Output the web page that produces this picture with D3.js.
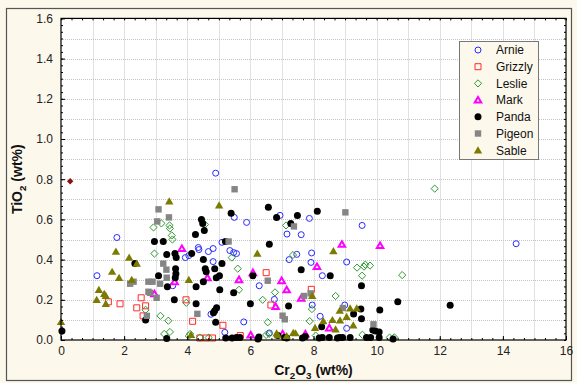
<!DOCTYPE html>
<html>
<head>
<meta charset="utf-8">
<script src="https://cdn.jsdelivr.net/npm/d3@7"></script>
<style>
  body { margin: 0; background: #fdf8ec; }
  svg { display: block; }
</style>
</head>
<body>
<svg id="chart" width="577" height="383"></svg>
<script>
// Cr2O3 (wt%), TiO2 (wt%) pairs for each kimberlite
const arnie = [
  [1.77,0.51],[1.14,0.32],[4.90,0.83],[5.49,0.61],[5.88,0.585],[5.10,0.486],[3.94,0.41],[4.05,0.42],
  [4.35,0.46],[4.37,0.45],[4.67,0.44],[4.82,0.455],[5.35,0.445],[5.47,0.435],[5.56,0.43],[4.82,0.39],
  [3.54,0.27],[6.28,0.27],[4.75,0.128],[5.79,0.09],[5.19,0.038],[6.94,0.62],[7.87,0.605],[7.16,0.527],
  [7.61,0.524],[9.54,0.57],[7.47,0.426],[7.94,0.433],[7.23,0.40],[7.92,0.386],[9.05,0.388],[8.28,0.32],
  [6.76,0.202],[7.96,0.174],[8.99,0.174],[8.21,0.118],[9.05,0.058],[14.42,0.479],[6.6,0.035]
];
const grizzly = [
  [1.5,0.19],[1.87,0.18],[2.54,0.21],[2.4,0.16],[2.68,0.17],[2.6,0.12],[3.96,0.20],[4.17,0.093],
  [5.13,0.073],[4.4,0.01],[4.6,0.01],[4.8,0.01],[5.68,0.022],[6.5,0.335],[7.93,0.252],[6.65,0.174]
];
const leslie = [
  [2.68,0.15],[2.93,0.56],[3.18,0.58],[3.44,0.57],[3.45,0.555],[4.56,0.575],[3.51,0.52],[3.53,0.50],
  [5.41,0.41],[5.6,0.355],[5.64,0.25],[3.97,0.185],[3.15,0.12],[3.4,0.096],[3.45,0.04],[3.27,0.03],
  [4.09,0.03],[4.05,0.02],[4.4,0.012],[4.68,0.012],[7.13,0.57],[7.35,0.423],[9.38,0.36],[9.6,0.365],
  [9.79,0.37],[9.64,0.375],[9.54,0.32],[6.78,0.237],[8.7,0.219],[6.39,0.20],[7.95,0.154],[6.55,0.088],
  [7.88,0.094],[6.5,0.025],[8.07,0.022],[9.55,0.026],[10.56,0.013],[10.41,0.012],[11.84,0.753],
  [10.81,0.323],[6.59,0.03],[2.96,0.43]
];
const mark = [
  [3.83,0.455],[6.08,0.335],[4.64,0.31],[5.64,0.30],[3.6,0.29],[2.96,0.23],[6.01,0.025],[8.9,0.476],
  [10.11,0.47],[8.11,0.365],[6.99,0.295],[7.15,0.25],[7.61,0.207],[6.8,0.166],[8.5,0.06],[7.02,0.03],
  [7.74,0.03]
];
const panda = [
  [0.03,0.045],[2.34,0.38],[2.68,0.10],[5.39,0.63],[4.45,0.60],[4.49,0.58],[4.54,0.545],[4.26,0.525],
  [2.96,0.49],[3.24,0.49],[5.21,0.49],[3.35,0.425],[3.61,0.43],[3.65,0.41],[4.14,0.43],[4.51,0.40],
  [5.10,0.38],[3.63,0.355],[3.64,0.33],[4.57,0.355],[4.6,0.34],[4.87,0.355],[3.09,0.32],[3.62,0.31],
  [4.92,0.31],[5.02,0.32],[6.08,0.32],[3.37,0.265],[4.28,0.265],[4.51,0.29],[5.47,0.235],[5.03,0.25],
  [3.59,0.20],[4.28,0.18],[6.0,0.18],[4.93,0.16],[4.87,0.145],[4.83,0.135],[4.9,0.088],[3.35,0.008],
  [5.56,0.013],[5.42,0.01],[6.57,0.66],[6.83,0.61],[7.49,0.62],[8.12,0.64],[7.28,0.58],[6.6,0.476],
  [7.61,0.35],[8.53,0.32],[9.52,0.27],[7.21,0.169],[9.5,0.154],[10.67,0.19],[9.27,0.129],[9.52,0.106],
  [8.26,0.066],[9.96,0.045],[9.88,0.05],[12.33,0.173],[10.1,0.149],[5.22,0.01],[5.67,0.012],
  [6.27,0.015],[6.87,0.022],[7.08,0.012],[7.15,0.01],[7.74,0.017],[8.28,0.012],[8.5,0.012],
  [8.83,0.012],[9.16,0.012],[9.68,0.012],[9.81,0.012],[10.08,0.04],[10.08,0.012],[10.52,0.005],
  [6.24,0.005],[7.65,0.01],[8.18,0.01],[8.76,0.01],[8.92,0.012]
];
const pigeon = [
  [2.19,0.28],[2.3,0.29],[2.77,0.29],[2.77,0.24],[2.72,0.12],[5.50,0.75],[3.09,0.65],[3.42,0.61],
  [3.05,0.59],[5.31,0.49],[3.24,0.38],[3.34,0.35],[3.35,0.31],[2.90,0.29],[3.14,0.28],[2.82,0.235],
  [3.03,0.21],[4.32,0.13],[9.01,0.635],[7.38,0.565],[6.55,0.295],[7.91,0.232],[7.7,0.219],
  [8.93,0.159],[7.02,0.121],[7.09,0.103],[9.9,0.078]
];
const sable = [
  [0,0.09],[1.74,0.44],[1.62,0.34],[1.84,0.31],[2.16,0.41],[2.4,0.38],[2.24,0.30],[1.2,0.25],
  [1.37,0.23],[1.42,0.22],[1.13,0.20],[1.42,0.18],[3.43,0.69],[5.01,0.67],[6.22,0.43],[4.05,0.30],
  [8.63,0.443],[7.96,0.22],[8.83,0.146],[9.16,0.158],[9.37,0.158],[8.31,0.094],[8.6,0.10],
  [8.84,0.098],[9.05,0.116],[9.26,0.073],[8.05,0.061],[8.7,0.053],[7.36,0.036],[6.83,0.033],
  [4.12,0.026],[7.43,0.034],[7.15,0.02],[6.87,0.025]
];
const extra = [[0.29,0.79]];

const seriesNames = ["Arnie", "Grizzly", "Leslie", "Mark", "Panda", "Pigeon", "Sable"];
const xTicks = [0, 2, 4, 6, 8, 10, 12, 14, 16];
const yTicks = [0, 0.2, 0.4, 0.6, 0.8, 1.0, 1.2, 1.4, 1.6];

// marker shapes
const shapes = {
  circle: r => `M${-r},0A${r},${r} 0 1,0 ${r},0A${r},${r} 0 1,0 ${-r},0Z`,
  square: s => `M${-s},${-s}H${s}V${s}H${-s}Z`,
  diamond: s => `M0,${-s}L${s},0L0,${s}L${-s},0Z`,
  triangle: s => `M0,${-s}L${s * 1.05},${s * 0.8}L${-s * 1.05},${s * 0.8}Z`
};

const styles = [
  { name: "Arnie",   data: arnie,   d: shapes.circle(3),    fill: "none",    stroke: "#2a2aff", sw: 1 },
  { name: "Grizzly", data: grizzly, d: shapes.square(3),    fill: "none",    stroke: "#ff2a2a", sw: 1 },
  { name: "Leslie",  data: leslie,  d: shapes.diamond(3.6), fill: "none",    stroke: "#2e9a2e", sw: 1 },
  { name: "Mark",    data: mark,    d: shapes.triangle(3.1),fill: "#ffffff", stroke: "#ff00ff", sw: 2 },
  { name: "Panda",   data: panda,   d: shapes.circle(3.5),  fill: "#000000", stroke: "none",    sw: 0 },
  { name: "Pigeon",  data: pigeon,  d: shapes.square(3.2),  fill: "#858585", stroke: "none",    sw: 0 },
  { name: "Sable",   data: sable,   d: shapes.triangle(4),  fill: "#7b7b00", stroke: "none",    sw: 0 }
];

const svg = d3.select("#chart");
const L = 61, R = 566, T = 18.4, B = 340;
const x = d3.scaleLinear().domain([0, 16]).range([L, R]);
const y = d3.scaleLinear().domain([0, 1.6]).range([B, T]);

// outer frame
svg.append("rect").attr("x", 0).attr("y", 0).attr("width", 577).attr("height", 383).attr("fill", "#fdf8ec");
svg.append("rect").attr("x", 6.5).attr("y", 8.5).attr("width", 565).attr("height", 372)
  .attr("fill", "none").attr("stroke", "#555").attr("stroke-width", 1.2);

// plot background
svg.append("rect").attr("x", L).attr("y", T).attr("width", R - L).attr("height", B - T).attr("fill", "#fff");

// dotted grid
const grid = svg.append("g").attr("stroke", "#c4c4c4").attr("stroke-width", 1).attr("stroke-dasharray", "1,1");
d3.range(1, 16).forEach(k => {
  grid.append("line").attr("x1", Math.round(x(k)) + 0.5).attr("x2", Math.round(x(k)) + 0.5).attr("y1", T).attr("y2", B);
});
d3.range(1, 16).forEach(k => {
  grid.append("line").attr("y1", Math.round(y(k / 10)) + 0.5).attr("y2", Math.round(y(k / 10)) + 0.5).attr("x1", L).attr("x2", R);
});

// points
styles.forEach(s => {
  svg.append("g").selectAll("path").data(s.data).join("path")
    .attr("d", s.d)
    .attr("transform", d => `translate(${x(d[0])},${y(d[1])})`)
    .attr("fill", s.fill).attr("stroke", s.stroke).attr("stroke-width", s.sw);
});
svg.append("g").selectAll("path").data(extra).join("path")
  .attr("d", shapes.diamond(3.2))
  .attr("transform", d => `translate(${x(d[0])},${y(d[1])})`)
  .attr("fill", "#8b1010");

// axes: minor ticks every third of a grid step, major ticks with labels
const minorX = d3.range(0, 49).map(i => i / 3);
const minorY = d3.range(0, 49).map(i => i / 30);
const fmtY = d3.format(".1f");

function styleAxis(g) {
  g.select(".domain").remove();
  g.selectAll("line").attr("stroke", "#000");
  g.selectAll("text").attr("font-family", "Liberation Sans, Arial, sans-serif").attr("font-size", 12).attr("fill", "#222");
}

svg.append("g").attr("transform", `translate(0,${B})`)
  .call(d3.axisBottom(x).tickValues(minorX).tickSize(-2).tickFormat("")).call(styleAxis);
svg.append("g").attr("transform", `translate(0,${B})`)
  .call(d3.axisBottom(x).tickValues(xTicks).tickSize(-4).tickPadding(6).tickFormat(d3.format("d"))).call(styleAxis);
svg.append("g").attr("transform", `translate(0,${T})`)
  .call(d3.axisTop(x).tickValues(minorX).tickSize(-2).tickFormat("")).call(styleAxis);
svg.append("g").attr("transform", `translate(${L},0)`)
  .call(d3.axisLeft(y).tickValues(minorY).tickSize(-2).tickFormat("")).call(styleAxis);
svg.append("g").attr("transform", `translate(${L},0)`)
  .call(d3.axisLeft(y).tickValues(yTicks).tickSize(-4).tickPadding(8).tickFormat(fmtY)).call(styleAxis);
svg.append("g").attr("transform", `translate(${R},0)`)
  .call(d3.axisRight(y).tickValues(minorY).tickSize(-2).tickFormat("")).call(styleAxis);

// plot frame
svg.append("rect").attr("x", L).attr("y", T).attr("width", R - L).attr("height", B - T)
  .attr("fill", "none").attr("stroke", "#000").attr("stroke-width", 1.2);

// axis titles with subscripts
function chemTitle(sel, parts) {
  parts.forEach(p => {
    const t = sel.append("tspan").text(p.t);
    if (p.sub) t.attr("font-size", "70%").attr("dy", 3.5);
    else if (p.after) t.attr("dy", -3.5);
  });
}
const xt = svg.append("text").attr("x", (L + R) / 2).attr("y", 375).attr("text-anchor", "middle")
  .attr("font-family", "Liberation Sans, Arial, sans-serif").attr("font-weight", "bold").attr("font-size", 14).attr("fill", "#111");
chemTitle(xt, [{ t: "Cr" }, { t: "2", sub: true }, { t: "O", after: true }, { t: "3", sub: true }, { t: " (wt%)", after: true }]);

const yt = svg.append("text").attr("transform", `translate(22,${(T + B) / 2}) rotate(-90)`).attr("text-anchor", "middle")
  .attr("font-family", "Liberation Sans, Arial, sans-serif").attr("font-weight", "bold").attr("font-size", 14).attr("fill", "#111");
chemTitle(yt, [{ t: "TiO" }, { t: "2", sub: true }, { t: " (wt%)", after: true }]);

// legend
const lg = svg.append("g");
lg.append("rect").attr("x", 459.5).attr("y", 41.5).attr("width", 79).attr("height", 118)
  .attr("fill", "#fdf8ec").attr("stroke", "#777").attr("stroke-width", 1);
styles.forEach((s, i) => {
  const cy = 50 + i * 16.7;
  lg.append("path").attr("d", s.d).attr("transform", `translate(478,${cy})`)
    .attr("fill", s.fill).attr("stroke", s.stroke).attr("stroke-width", s.sw);
  lg.append("text").attr("x", 496).attr("y", cy + 4.3).text(seriesNames[i])
    .attr("font-family", "Liberation Sans, Arial, sans-serif").attr("font-size", 12).attr("fill", "#111");
});
</script>
</body>
</html>
